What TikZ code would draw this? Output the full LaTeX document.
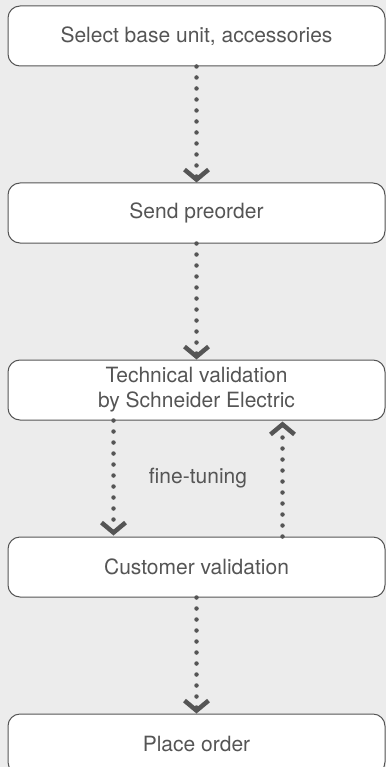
\documentclass[tikz,border=0pt]{standalone}
\usepackage{fontspec}
\setmainfont{TeX Gyre Heros}
\definecolor{Paper}{HTML}{ECECEC}
\definecolor{Ink}{HTML}{555555}
\usetikzlibrary{arrows.meta, positioning}

\begin{document}
\begin{tikzpicture}[x=1pt, y=-1pt,
    stepbox/.style={draw=Ink, line width=1pt, fill=white, rounded corners=12pt,
      minimum width=377pt, minimum height=60pt, inner sep=0pt,
      text=Ink, font=\fontsize{21}{25}\selectfont, align=center},
    flow/.style={Ink, line width=4.5pt, line cap=round, dash pattern=on 0pt off 11pt,
      -{Straight Barb[sharp, length=10pt, width=24pt, line width=4.5pt]}}]
    % \draw (0,0) rectangle (386,767);
      \fill[Paper] (0,0) rectangle (386,767);
      \useasboundingbox (0,0) rectangle (386,767);
      \node[stepbox] (sel) at (196.5,36) {Select base unit, accessories};
      \node[stepbox, below=116pt of sel] (pre) {Send preorder};
      \node[stepbox, below=116pt of pre] (tech) {Technical validation\\by Schneider Electric};
      \node[stepbox, below=116pt of tech] (cust) {Customer validation};
      \node[stepbox, below=116pt of cust] (place) {Place order};
      \node[text=Ink, font=\fontsize{21}{25}\selectfont] (tune) at (198,478) {fine-tuning};
      \draw[flow] (sel) -- (pre);
      \draw[flow] (pre) -- (tech);
      \draw[flow, shorten >=1pt] ([xshift=-83pt]tech.south) -- ([xshift=-83pt]cust.north);
      \draw[flow, shorten >=1pt] ([xshift=86pt]cust.north) -- ([xshift=86pt]tech.south);
      \draw[flow] (cust) -- (place);
    \end{tikzpicture}
\end{document}
